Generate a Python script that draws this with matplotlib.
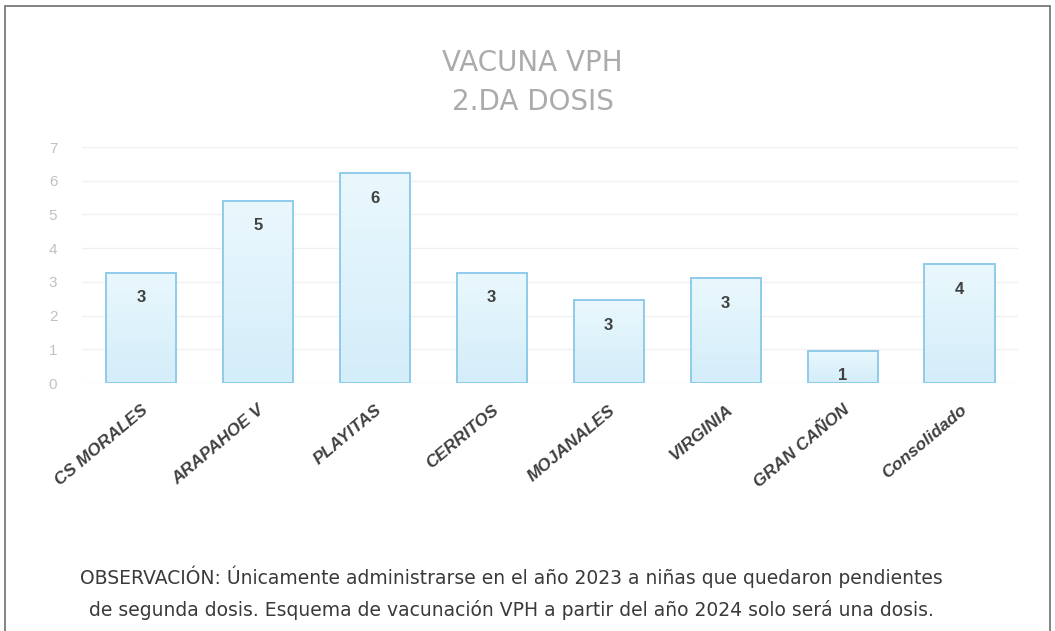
import matplotlib.pyplot as plt
import numpy as np
from matplotlib.patches import Rectangle
from matplotlib.colors import LinearSegmentedColormap

# Data
sites = ['CS MORALES', 'ARAPAHOE V', 'PLAYITAS', 'CERRITOS', 'MOJANALES',
         'VIRGINIA', 'GRAN CAÑON', 'Consolidado']
values = [3.27, 5.4, 6.22, 3.27, 2.46, 3.11, 0.95, 3.53]
value_labels = ['3', '5', '6', '3', '3', '3', '1', '4']
y_ticks = [0, 1, 2, 3, 4, 5, 6, 7]

note_line1 = 'OBSERVACIÓN: Únicamente administrarse en el año 2023 a niñas que quedaron pendientes'
note_line2 = 'de segunda dosis. Esquema de vacunación VPH a partir del año 2024 solo será una dosis.'

fig = plt.figure(figsize=(10.55, 6.31), dpi=100)
fig.patch.set_facecolor('white')

# outer frame of the scanned chart
fig.add_artist(Rectangle((0.005, -0.01), 0.99, 1.0, transform=fig.transFigure,
                         fill=False, edgecolor='#6e6e6e', linewidth=1.2))

ax = fig.add_axes([0.078, 0.393, 0.887, 0.374])
x = np.arange(len(sites))
bar_width = 0.6

bars = ax.bar(x, values, bar_width, color='none', edgecolor='#8fcbea',
              linewidth=1.4, zorder=3)

# light vertical gradient inside each bar
grad = np.linspace(0, 1, 256).reshape(-1, 1)
cmap = LinearSegmentedColormap.from_list('vph', ['#d3edf9', '#eaf8fd'])
for b in bars:
    x0, w, h = b.get_x(), b.get_width(), b.get_height()
    im = ax.imshow(grad, extent=[x0, x0 + w, 0, h], origin='lower',
                   cmap=cmap, aspect='auto', zorder=2)
    im.set_clip_path(b)

# value labels inside the top of each bar
for xi, v, lab in zip(x, values, value_labels):
    ax.annotate(lab, xy=(xi, v), xytext=(0, -18), textcoords='offset points',
                ha='center', va='center', fontsize=12, fontweight='bold',
                color='#404040', family='Liberation Sans', zorder=4)

ax.set_xlim(-0.5, len(sites) - 0.5)
ax.set_ylim(0, 7)
ax.set_yticks(y_ticks)
ax.yaxis.grid(True, color='#f0f0f0', linewidth=1)
ax.set_axisbelow(True)
for s in ax.spines.values():
    s.set_visible(False)
ax.tick_params(axis='both', length=0)
ax.tick_params(axis='y', labelcolor='#c0c0c0', labelsize=11, pad=18)
for t in ax.get_yticklabels():
    t.set_family('Liberation Sans')

ax.set_xticks(x)
ax.set_xticklabels(sites, rotation=40, ha='right', rotation_mode='anchor',
                   fontsize=12.5, fontweight='bold', fontstyle='italic',
                   color='#404040', family='Liberation Sans')
ax.tick_params(axis='x', pad=14)

# title
fig.text(0.505, 0.9, 'VACUNA VPH', ha='center', va='center', fontsize=20,
         color='#ababab', family='DejaVu Sans')
fig.text(0.505, 0.838, '2.DA DOSIS', ha='center', va='center', fontsize=20,
         color='#ababab', family='DejaVu Sans')

# observation note under the chart
fig.text(0.485, 0.086, note_line1, ha='center', va='center', fontsize=13.5,
         color='#3a3a3a', family='DejaVu Sans Condensed')
fig.text(0.485, 0.034, note_line2, ha='center', va='center', fontsize=13.5,
         color='#3a3a3a', family='DejaVu Sans Condensed')

fig.savefig('out.png', dpi=100)
